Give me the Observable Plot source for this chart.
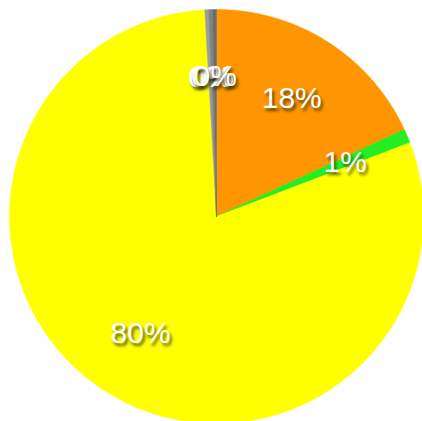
<!DOCTYPE html>
<html>
<head>
<meta charset="utf-8">
<script src="https://cdn.jsdelivr.net/npm/d3@7"></script>
<script src="https://cdn.jsdelivr.net/npm/@observablehq/plot@0.6"></script>
<style>
  html, body { margin: 0; padding: 0; background: #fff; overflow: hidden; }
  #chart svg text { text-shadow: 2px 3px 3px rgba(40,40,0,0.75); }
</style>
</head>
<body>
<div id="chart"></div>
<script>
// Slices in clockwise order starting at 12 o'clock
const categories = ["Orange", "Green", "Yellow", "Gray A", "Gray B", "Gray C"];
const values = [18.1, 1.1, 79.9, 0.3, 0.3, 0.3];
const colors = ["#ff9500", "#22ee22", "#ffff00", "#9c9c9c", "#828282", "#6c6c6c"];

const W = 422, H = 421, CX = 216, CY = 216, R = 207;

const total = d3.sum(values);
const pie = d3.pie().sort(null).value(d => d.value)(
  categories.map((c, i) => ({ category: c, value: values[i], color: colors[i] }))
);

// Build slice outlines (in data units, radius 1) from the pie angles
const outline = [];
for (const p of pie) {
  const a0 = p.startAngle, a1 = p.endAngle;
  const n = Math.max(2, Math.ceil((a1 - a0) / (Math.PI / 360)));
  outline.push({ key: p.data.category, color: p.data.color, x: 0, y: 0 });
  for (let k = 0; k <= n; k++) {
    const a = a0 + (a1 - a0) * k / n;
    outline.push({ key: p.data.category, color: p.data.color, x: Math.sin(a), y: Math.cos(a) });
  }
  outline.push({ key: p.data.category, color: p.data.color, x: 0, y: 0 });
}

const labels = pie.map(p => {
  const a = (p.startAngle + p.endAngle) / 2;
  return { text: Math.round(p.data.value / total * 100) + "%", x: 0.675 * Math.sin(a), y: 0.675 * Math.cos(a) };
});

const chart = Plot.plot({
  width: W,
  height: H,
  margin: 0,
  x: { domain: [-CX / R, (W - CX) / R], axis: null },
  y: { domain: [-(H - CY) / R, CY / R], axis: null },
  color: { type: "identity" },
  marks: [
    Plot.line(outline, { x: "x", y: "y", z: "key", fill: "color", stroke: "color", strokeWidth: 0.5, curve: "linear" }),
    Plot.text(labels, { x: "x", y: "y", text: "text", fill: "white", fontSize: 30, fontFamily: "Liberation Sans, Arial, Helvetica, sans-serif" })
  ]
});
document.getElementById("chart").appendChild(chart);
</script>
</body>
</html>
